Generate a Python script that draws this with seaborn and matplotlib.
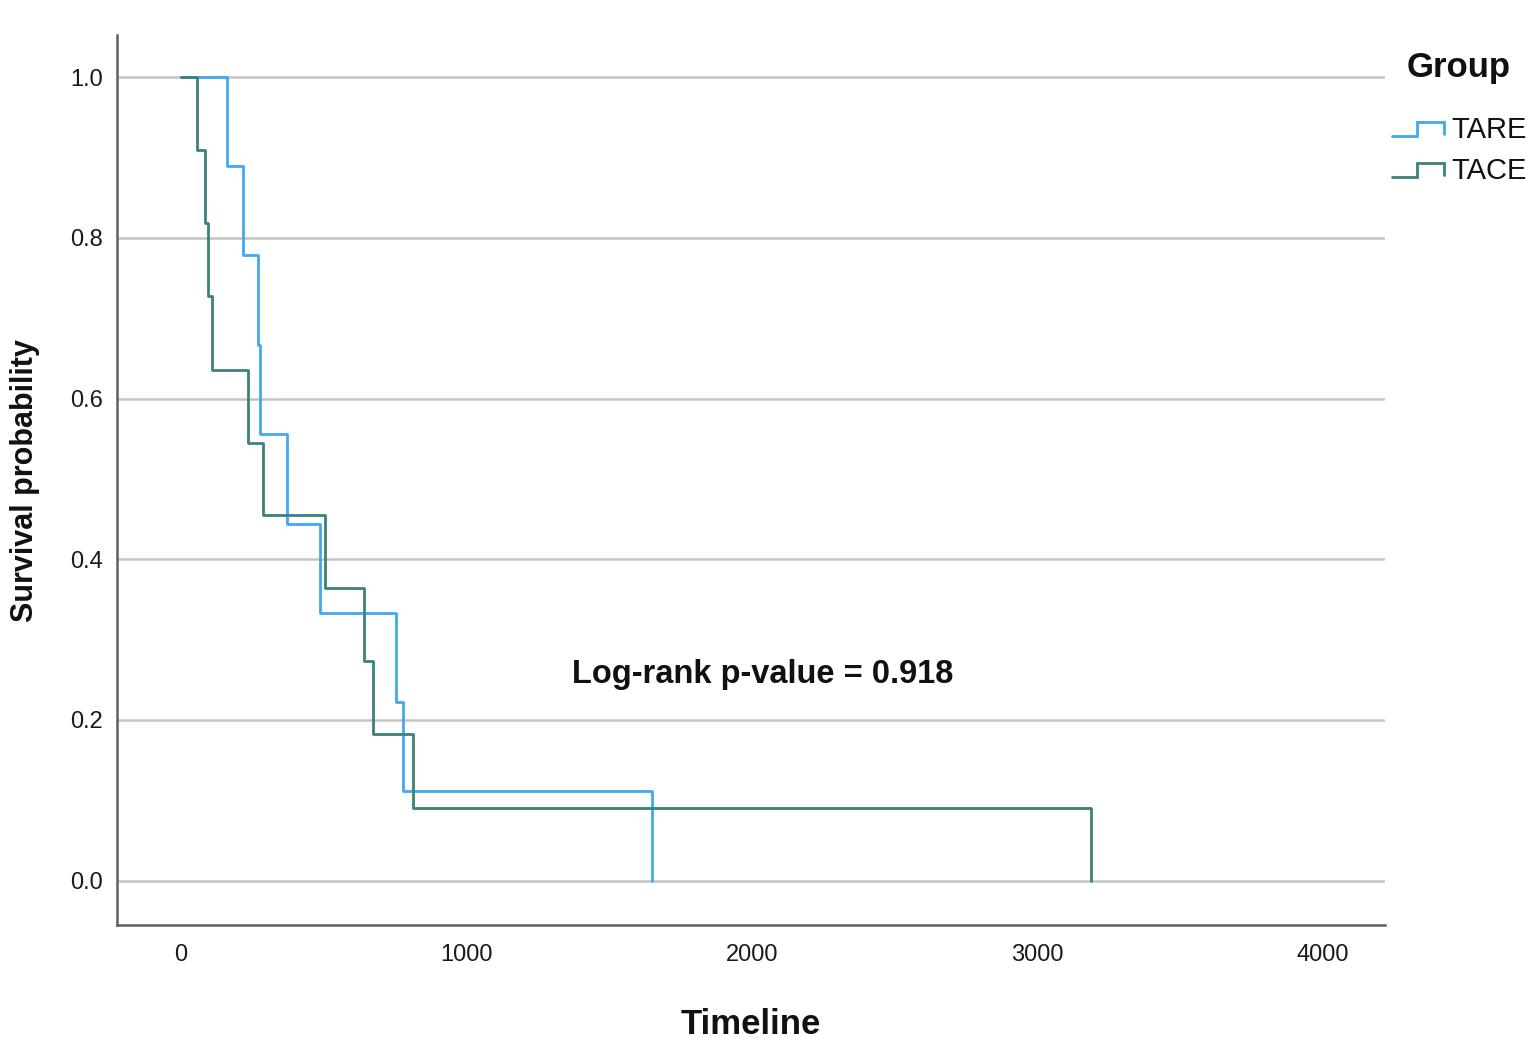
import pandas as pd
import seaborn as sns
import matplotlib.pyplot as plt
from matplotlib.legend_handler import HandlerBase
from matplotlib.lines import Line2D

# Kaplan-Meier step values
tare_time = [0, 160, 217, 270, 277, 372, 487, 754, 778, 1651]
tare_surv = [1.0, 0.889, 0.778, 0.667, 0.556, 0.444, 0.333, 0.222, 0.111, 0.0]
tace_time = [0, 56, 84, 95, 108, 234, 287, 505, 641, 673, 813, 3190]
tace_surv = [1.0, 0.909, 0.818, 0.727, 0.636, 0.545, 0.455, 0.364, 0.273, 0.182, 0.091, 0.0]
groups = ["TARE", "TACE"]
xticks = [0, 1000, 2000, 3000, 4000]
yticks = [0.0, 0.2, 0.4, 0.6, 0.8, 1.0]
p_text = "Log-rank p-value = 0.918"

df = pd.concat([
    pd.DataFrame({"Timeline": tare_time, "surv": tare_surv, "Group": "TARE"}),
    pd.DataFrame({"Timeline": tace_time, "surv": tace_surv, "Group": "TACE"}),
], ignore_index=True)

palette = {"TARE": "#42a8f0", "TACE": "#3a827a"}


class StepHandler(HandlerBase):
    # legend key drawn as a little step, like SPSS does
    def create_artists(self, legend, orig_handle, xdescent, ydescent, width, height, fontsize, trans):
        x0, y0 = -xdescent, -ydescent
        xs = [x0, x0 + 0.48 * width, x0 + 0.48 * width, x0 + width, x0 + width]
        ys = [y0 + 0.1 * height, y0 + 0.1 * height, y0 + 0.8 * height, y0 + 0.8 * height, y0 + 0.2 * height]
        line = Line2D(xs, ys, color=orig_handle.get_color(), lw=orig_handle.get_linewidth(),
                      transform=trans, solid_joinstyle="miter")
        return [line]


sns.set_style("white")
plt.rcParams['font.family'] = ['Liberation Sans', 'DejaVu Sans']

fig = plt.figure(figsize=(15.3, 10.38), dpi=100)
ax = fig.add_axes([0.0765, 0.109, 0.8288, 0.857])

g = sns.lineplot(x="Timeline", y="surv", hue="Group", hue_order=groups, data=df, palette=palette,
                 estimator=None, drawstyle="steps-post", linewidth=2.0, ax=ax)

h, l = g.get_legend_handles_labels()
ax.get_legend().remove()

ax.set_xlim(-224, 4220)
ax.set_ylim(-0.055, 1.052)
ax.set_xticks(xticks)
ax.set_yticks(yticks)
ax.set_yticklabels(["{:.1f}".format(v) for v in yticks])
ax.tick_params(axis="both", length=0, labelsize=17, colors="#1a1a1a")
ax.tick_params(axis="x", pad=14)
ax.tick_params(axis="y", pad=10)

ax.yaxis.grid(True, color="#c4c4c4", linewidth=1.8)
ax.set_axisbelow(True)
sns.despine(ax=ax)
for s in ["left", "bottom"]:
    ax.spines[s].set_color("#606060")
    ax.spines[s].set_linewidth(1.8)

ax.set_xlabel("Timeline", fontsize=25, fontweight="bold", labelpad=30, color="#111111")
ax.set_ylabel("Survival probability", fontsize=22, fontweight="bold", labelpad=22, color="#111111")

ax.text(2040, 0.257, p_text, fontsize=23.5, fontweight="bold", ha="center", va="center", color="#111111")

fig.text(1407 / 1530, 1 - 68 / 1038, "Group", fontsize=25, fontweight="bold", ha="left", va="center",
         color="#111111")
legend = fig.legend(h, l, loc="upper left", bbox_to_anchor=(0.9095, 0.888), frameon=False,
                    fontsize=21, handler_map={Line2D: StepHandler()}, borderpad=0,
                    handlelength=1.8, handletextpad=0.25, labelspacing=0.45, borderaxespad=0)
for t in legend.get_texts():
    t.set_color("#111111")

plt.savefig("out.png", dpi=100)
